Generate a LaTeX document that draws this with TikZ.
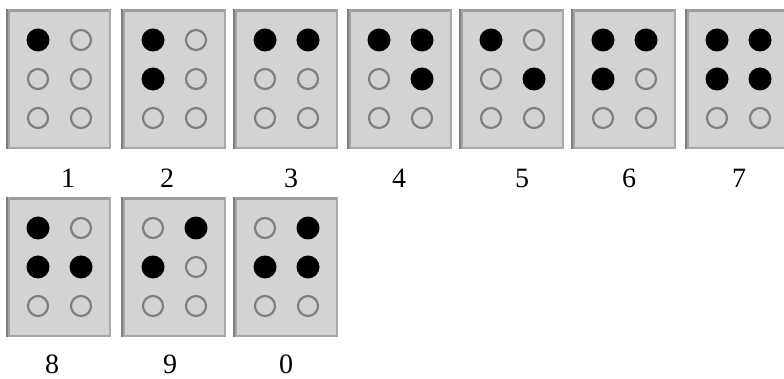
\documentclass[tikz,border=0pt]{standalone}
\usepackage{fontspec}
\setmainfont{Liberation Serif}
\definecolor{cellbg}{HTML}{D3D3D3}
\definecolor{edgeA}{HTML}{7E7E7E}
\definecolor{edgeB}{HTML}{A4A4A4}
\definecolor{edgeT}{HTML}{9C9C9C}
\definecolor{edgeR}{HTML}{A8A8A8}
\definecolor{ringgray}{HTML}{7F7F7F}
\tikzset{
  cellbox/.style={draw=none, fill=cellbg, minimum width=105pt, minimum height=140pt, inner sep=0pt, outer sep=0pt, anchor=north west},
  dotfull/.style={circle, fill=black, minimum size=23pt, inner sep=0pt},
  dotempty/.style={circle, draw=ringgray, line width=2.2pt, fill=cellbg, minimum size=20pt, inner sep=0pt},
  digit/.style={font=\fontsize{28}{30}\selectfont, anchor=base, inner sep=0pt},
}
\newcommand\bcell[7]{%
  \node[cellbox] (#1) at (#2,#3) {};
  \fill[edgeT] (#1.north west) rectangle ([yshift=-3pt]#1.north east);
  \fill[edgeR] ([xshift=-2pt]#1.north east) rectangle (#1.south east);
  \fill[edgeR] ([yshift=2pt]#1.south west) rectangle (#1.south east);
  \fill[edgeB] (#1.north west) rectangle ([xshift=4pt]#1.south west);
  \fill[edgeA] (#1.north west) rectangle ([xshift=2pt]#1.south west);
  \node[#4] (#1-tl) at ({#2+32},{#3+31}) {};
  \node[#5] (#1-tr) at ({#2+75},{#3+31}) {};
  \node[#6] (#1-ml) at ({#2+32},{#3+70}) {};
  \node[#7] (#1-mr) at ({#2+75},{#3+70}) {};
  \node[dotempty] (#1-bl) at ({#2+32},{#3+109}) {};
  \node[dotempty] (#1-br) at ({#2+75},{#3+109}) {};
}
\begin{document}
\begin{tikzpicture}[x=1pt,y=-1pt]
\useasboundingbox (0,0) rectangle (784,379);
\clip (0,0) rectangle (784,379);
% row 1
\bcell{c1}{6}{9}{dotfull}{dotempty}{dotempty}{dotempty}
\bcell{c2}{121}{9}{dotfull}{dotempty}{dotfull}{dotempty}
\bcell{c3}{233}{9}{dotfull}{dotfull}{dotempty}{dotempty}
\bcell{c4}{347}{9}{dotfull}{dotfull}{dotempty}{dotfull}
\bcell{c5}{459}{9}{dotfull}{dotempty}{dotempty}{dotfull}
\bcell{c6}{571}{9}{dotfull}{dotfull}{dotfull}{dotempty}
\bcell{c7}{685}{9}{dotfull}{dotfull}{dotfull}{dotfull}
% row 2
\bcell{c8}{6}{197}{dotfull}{dotempty}{dotfull}{dotfull}
\bcell{c9}{121}{197}{dotempty}{dotfull}{dotfull}{dotempty}
\bcell{c0}{233}{197}{dotempty}{dotfull}{dotfull}{dotfull}
% labels
\node[digit] (l1) at (68,188) {1};
\node[digit] (l2) at (167,188) {2};
\node[digit] (l3) at (291,188) {3};
\node[digit] (l4) at (399,188) {4};
\node[digit] (l5) at (522,188) {5};
\node[digit] (l6) at (629,188) {6};
\node[digit] (l7) at (739,188) {7};
\node[digit] (l8) at (52,373) {8};
\node[digit] (l9) at (170,373) {9};
\node[digit] (l0) at (286,373) {0};
\end{tikzpicture}
\end{document}
